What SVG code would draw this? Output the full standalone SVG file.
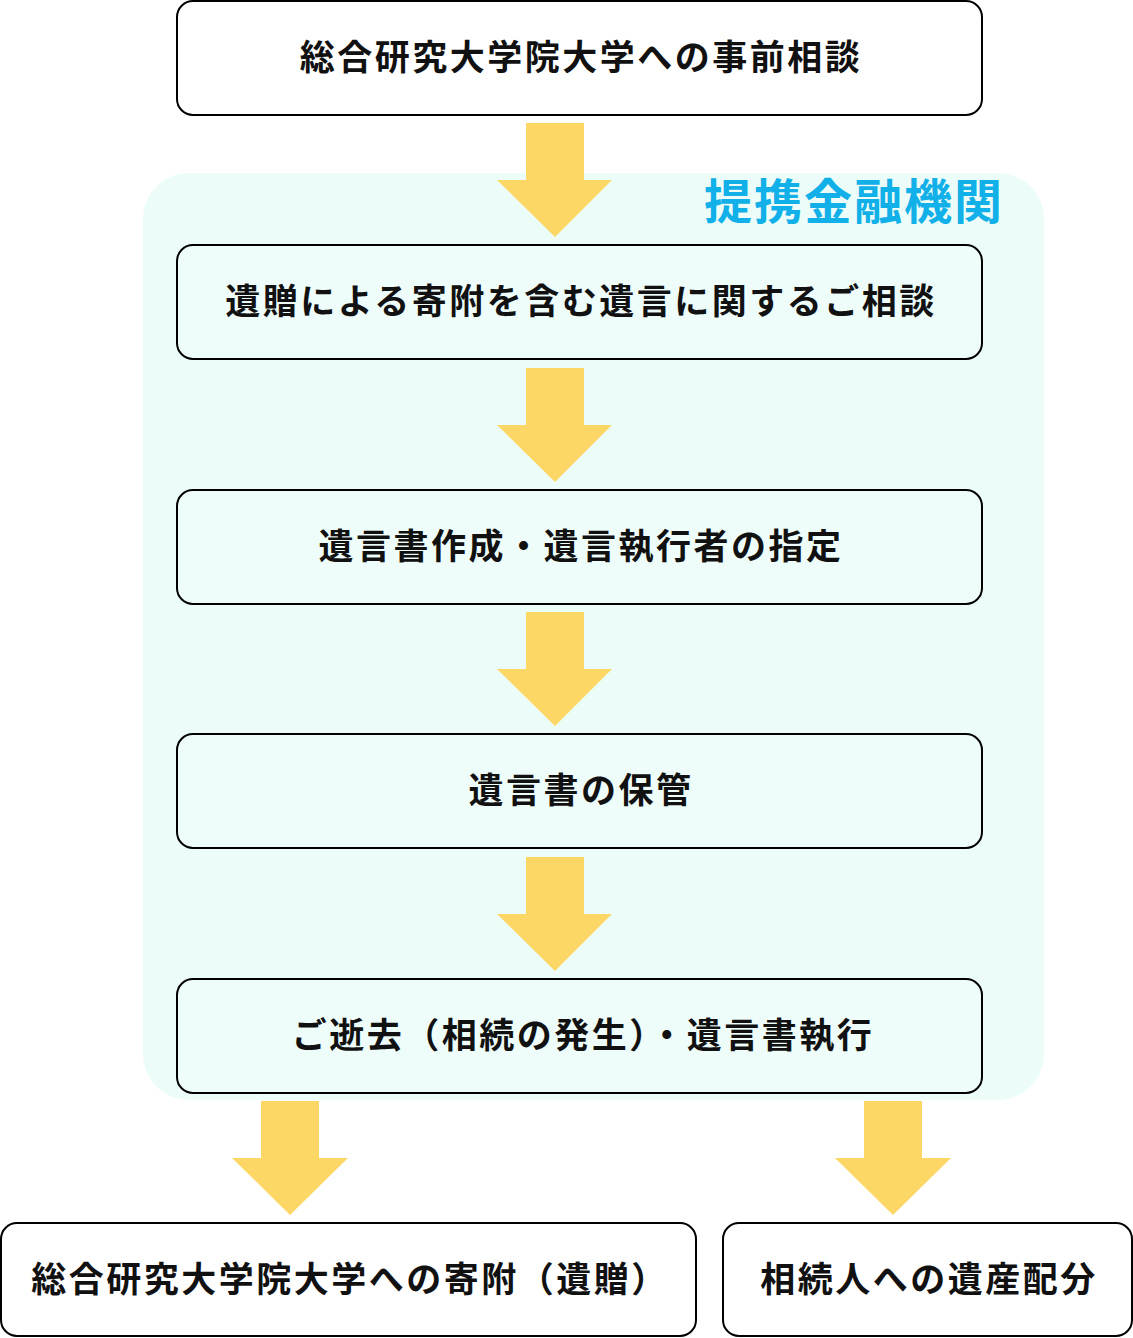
<svg xmlns="http://www.w3.org/2000/svg" width="1133" height="1338" viewBox="0 0 1133 1338">
<style>
.box{fill:#ffffff;stroke:#000;stroke-width:2}
.ibox{fill:#eefdfa;stroke:#000;stroke-width:2}
.t{font-family:"Noto Sans CJK JP","Noto Sans CJK SC",sans-serif;font-size:35px;font-weight:700;fill:#111;text-anchor:middle;letter-spacing:2.5px}
.arr{fill:#fdd766}
</style>
<rect x="143" y="173" width="901" height="927" rx="46" fill="#ecfdf9"/>
<text x="704" y="219" style="font-family:'Noto Sans CJK JP','Noto Sans CJK SC',sans-serif;font-size:48px;font-weight:700;fill:#12b0e8;letter-spacing:2px">提携金融機関</text>
<g id="connectors">
<polygon class="arr" points="526,123 584,123 584,180 612,180 555,237 497,180 526,180"/>
<polygon class="arr" points="526,368 584,368 584,425 612,425 555,482 497,425 526,425"/>
<polygon class="arr" points="526,612 584,612 584,669 612,669 555,726 497,669 526,669"/>
<polygon class="arr" points="526,857 584,857 584,914 612,914 555,971 497,914 526,914"/>
<polygon class="arr" points="261,1101 319,1101 319,1158 348,1158 290,1215 232,1158 261,1158"/>
<polygon class="arr" points="864,1101 922,1101 922,1158 951,1158 893,1215 835,1158 864,1158"/>
</g>
<g id="n1"><rect class="box" x="177" y="1" width="805" height="114" rx="16"/><text class="t" x="581" y="70">総合研究大学院大学への事前相談</text></g>
<g id="n2"><rect class="ibox" x="177" y="245" width="805" height="114" rx="16"/><text class="t" x="581" y="314">遺贈による寄附を含む遺言に関するご相談</text></g>
<g id="n3"><rect class="ibox" x="177" y="490" width="805" height="114" rx="16"/><text class="t" x="581" y="559">遺言書作成・遺言執行者の指定</text></g>
<g id="n4"><rect class="ibox" x="177" y="734" width="805" height="114" rx="16"/><text class="t" x="581" y="803">遺言書の保管</text></g>
<g id="n5"><rect class="ibox" x="177" y="979" width="805" height="114" rx="16"/><text class="t" x="583" y="1048" letter-spacing="4.5">ご逝去（相続の発生）・遺言書執行</text></g>
<g id="n6"><rect class="box" x="1" y="1223" width="695" height="113" rx="16"/><text class="t" x="350" y="1292">総合研究大学院大学への寄附（遺贈）</text></g>
<g id="n7"><rect class="box" x="723" y="1223" width="409" height="113" rx="16"/><text class="t" x="929" y="1292">相続人への遺産配分</text></g>
</svg>
